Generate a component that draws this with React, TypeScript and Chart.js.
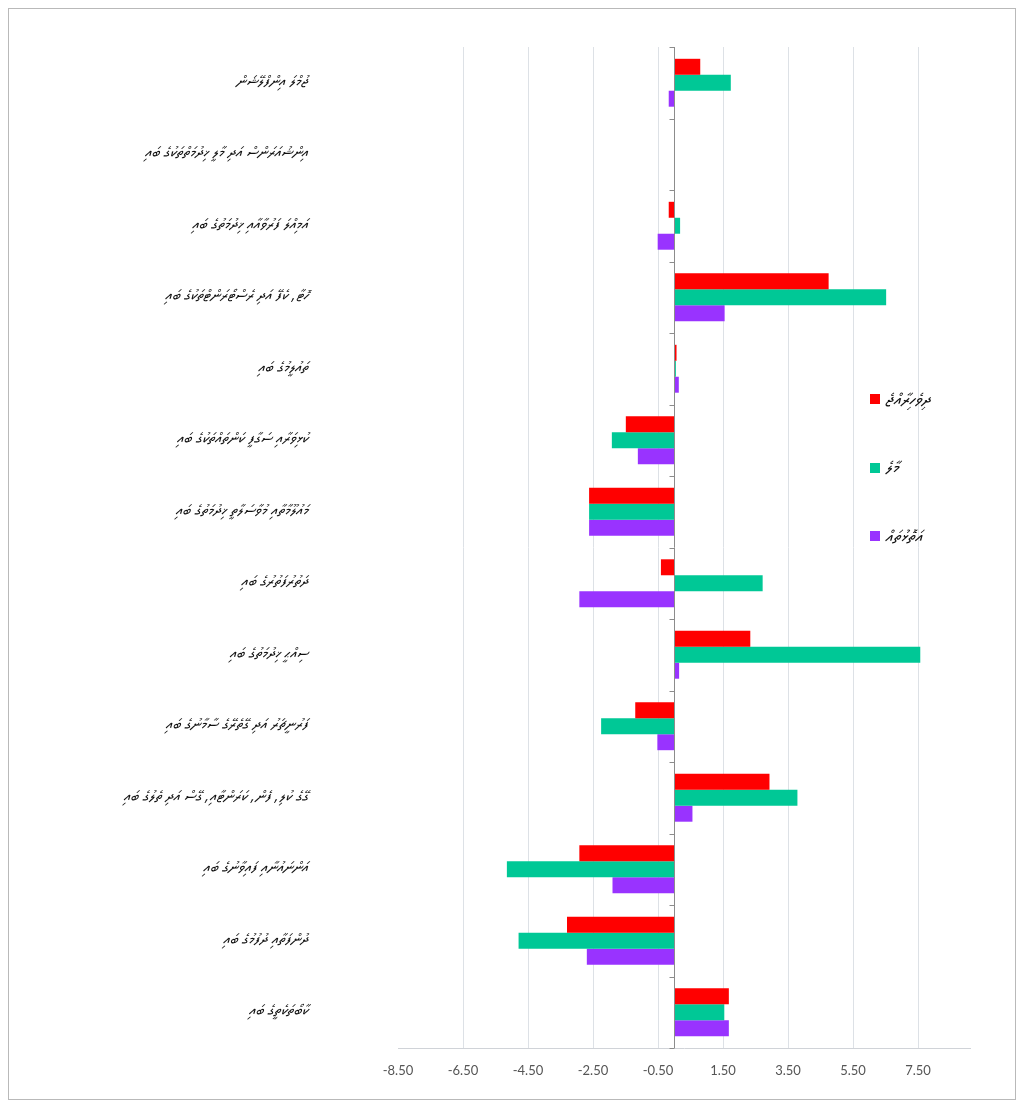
import React, { useEffect, useRef } from "react";
import { Chart, registerables } from "chart.js";

Chart.register(...registerables);

// CPI divisions, listed top to bottom
const categories = [
  "ޖުމްލަ އިންފްލޭޝަން",
  "އިންޝުއަރަންސް އަދި މާލީ ޚިދުމަތްތަކުގެ ބައި",
  "އަމިއްލަ ފަރުވާއާއި ޚިދުމަތުގެ ބައި",
  "ހޮޓާ، ކެފޭ އަދި ރެސްޓޯރަންޓްތަކުގެ ބައި",
  "ތައުލީމުގެ ބައި",
  "ކުޅިވަރާއި ސަގާފީ ކަންތައްތަކުގެ ބައި",
  "މައުލޫމާތާއި މުވާސަލާތީ ޚިދުމަތުގެ ބައި",
  "ދަތުރުފަތުރުގެ ބައި",
  "ސިއްޙީ ޚިދުމަތުގެ ބައި",
  "ފަރުނީޗަރު އަދި ގޭތެރޭގެ ސާމާނުގެ ބައި",
  "ގޭގެ ކުލި، ފެން، ކަރަންޓާއި، ގޭސް އަދި ތެލުގެ ބައި",
  "އަންނައުނާއި ފައިވާނުގެ ބައި",
  "ދުންފަތާއި ދުފުމުގެ ބައި",
  "ކާބޯތަކެތީގެ ބައި",
];

const seriesNames = ["ދިވެހިރާއްޖެ", "މާލެ", "އަތޮޅުތައް"];

const maldives = [0.8, 0, -0.17, 4.75, 0.07, -1.49, -2.62, -0.41, 2.34, -1.2, 2.93, -2.92, -3.3, 1.68];
const male = [1.74, 0, 0.18, 6.52, 0.05, -1.92, -2.62, 2.72, 7.57, -2.25, 3.79, -5.15, -4.79, 1.54];
const atolls = [-0.17, 0, -0.51, 1.55, 0.14, -1.12, -2.62, -2.92, 0.15, -0.52, 0.56, -1.9, -2.69, 1.68];

const xTicks = [-8.5, -6.5, -4.5, -2.5, -0.5, 1.5, 3.5, 5.5, 7.5];
const xMin = -8.5;
const xMax = 9.1;

const colors = ["#ff0000", "#00c896", "#9933ff"];

const thaanaFont = "'MV Boli', 'Noto Sans Thaana', 'DejaVu Sans', sans-serif";

// Vertical axis crossing at zero, with small tick marks at each category boundary
const zeroAxis = {
  id: "zeroAxis",
  afterDatasetsDraw(chart: any) {
    const { ctx, chartArea, scales } = chart;
    const x0 = Math.round(scales.x.getPixelForValue(0)) + 0.5;
    const n = categories.length;
    const step = (chartArea.bottom - chartArea.top) / n;
    ctx.save();
    ctx.strokeStyle = "#8c8c8c";
    ctx.lineWidth = 1;
    ctx.beginPath();
    ctx.moveTo(x0, chartArea.top);
    ctx.lineTo(x0, chartArea.bottom);
    for (let i = 0; i <= n; i++) {
      const y = Math.round(chartArea.top + i * step) + 0.5;
      ctx.moveTo(x0 - 5, y);
      ctx.lineTo(x0, y);
    }
    ctx.stroke();
    ctx.restore();
  },
};

function CpiChart() {
  const ref = useRef<HTMLCanvasElement>(null);

  useEffect(() => {
    if (!ref.current) return;
    const chart = new Chart(ref.current, {
      type: "bar",
      data: {
        labels: categories,
        datasets: [maldives, male, atolls].map((d, i) => ({
          label: seriesNames[i],
          data: d,
          backgroundColor: colors[i],
          borderWidth: 0,
          categoryPercentage: 0.67,
          barPercentage: 1.0,
        })),
      },
      options: {
        indexAxis: "y",
        responsive: false,
        animation: false,
        layout: { padding: { top: 38, right: 45, left: 0, bottom: 0 } },
        plugins: {
          legend: { display: false },
          tooltip: { enabled: false },
        },
        scales: {
          x: {
            type: "linear",
            min: xMin,
            max: xMax,
            afterBuildTicks(scale: any) {
              scale.ticks = xTicks.map((v) => ({ value: v }));
            },
            afterFit(scale: any) {
              scale.height = 51;
              scale.paddingLeft = 0;
              scale.paddingRight = 0;
            },
            grid: {
              color: (c: any) => (c.index === 0 ? "rgba(0,0,0,0)" : "#dde1e6"),
              drawTicks: false,
            },
            border: { display: true, color: "#d0d3d8" },
            ticks: {
              padding: 15,
              color: "#555555",
              font: { family: "Lato, 'Open Sans', sans-serif", size: 13 },
              callback: (v: any) => Number(v).toFixed(2),
            },
          },
          y: {
            afterFit(scale: any) {
              scale.width = 389;
              scale.paddingTop = 0;
              scale.paddingBottom = 0;
            },
            grid: { display: false, drawTicks: false },
            border: { display: false },
            ticks: {
              padding: 90,
              color: "#111111",
              font: { family: thaanaFont, size: 15, style: "italic" },
              autoSkip: false,
            },
          },
        },
      },
      plugins: [zeroAxis],
    });
    return () => chart.destroy();
  }, []);

  return <canvas ref={ref} width={1006} height={1090} style={{ display: "block" }} />;
}

export default function App() {
  return (
    <div
      style={{
        position: "relative",
        width: 1006,
        height: 1090,
        border: "1px solid #b9b9b9",
        boxShadow: "1px 1px 2px rgba(0,0,0,0.25)",
        background: "#ffffff",
      }}
    >
      <CpiChart />
      <div
        style={{
          position: "absolute",
          left: 861,
          top: 380,
          fontFamily: thaanaFont,
          fontStyle: "italic",
          fontSize: 17,
          color: "#111111",
        }}
      >
        {seriesNames.map((name, i) => (
          <div
            key={name}
            style={{ display: "flex", alignItems: "center", height: 20, marginBottom: i < 2 ? 48.5 : 0 }}
          >
            <span
              style={{
                display: "inline-block",
                width: 10,
                height: 10,
                background: colors[i],
                marginRight: 5,
                flexShrink: 0,
              }}
            />
            <span dir="rtl" style={{ whiteSpace: "nowrap" }}>{name}</span>
          </div>
        ))}
      </div>
    </div>
  );
}
